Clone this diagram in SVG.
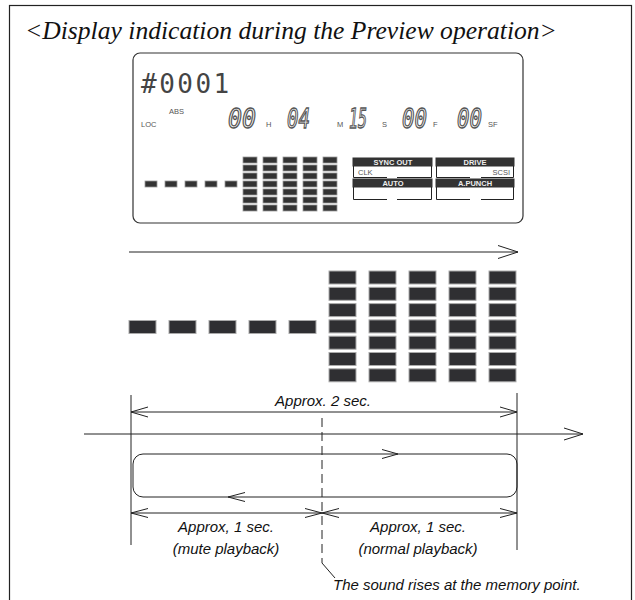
<svg xmlns="http://www.w3.org/2000/svg" width="635" height="600" viewBox="0 0 635 600">
<style>
.ln{stroke:#222;stroke-width:1;fill:none}
.bar{fill:#333;stroke:#999;stroke-width:0.8}
.bbar{fill:#2f2f32;stroke:#aaa;stroke-width:1}
.lbl{font-family:"Liberation Sans",Arial,sans-serif;font-style:italic;font-size:15px;fill:#111}
.sm{font-family:"Liberation Sans",Arial,sans-serif;font-size:7.5px;fill:#555}
.seg{font-family:"DejaVu Sans Mono",monospace;font-style:italic;font-size:26px;fill:#f6f6f6;stroke:#555;stroke-width:1.3}
.hdr{font-family:"Liberation Sans",Arial,sans-serif;font-weight:bold;font-size:7.5px;fill:#eee;text-anchor:middle}
</style>
<rect x="9.5" y="5.5" width="622" height="610" fill="#fff" stroke="#222" stroke-width="1.2"/>
<text x="25" y="39" font-family="Liberation Serif,'Times New Roman',serif" font-style="italic" font-size="25.6" fill="#111">&lt;Display indication during the Preview operation&gt;</text>

<g id="lcd">
<rect x="133" y="53" width="390" height="170" rx="7" fill="#fff" stroke="#333" stroke-width="1.2"/>
<text x="141" y="93" font-family="DejaVu Sans Mono,monospace" font-size="26" letter-spacing="2.5" fill="#444">#0001</text>
<text x="141" y="127" class="sm">LOC</text>
<text x="169" y="114" class="sm">ABS</text>
<text x="228" y="128" class="seg" textLength="28" lengthAdjust="spacingAndGlyphs">00</text>
<text x="266" y="127" class="sm">H</text>
<text x="287" y="128" class="seg" textLength="23" lengthAdjust="spacingAndGlyphs">04</text>
<text x="337" y="127" class="sm">M</text>
<text x="349" y="128" class="seg" textLength="18" lengthAdjust="spacingAndGlyphs">15</text>
<text x="382" y="127" class="sm">S</text>
<text x="402" y="128" class="seg" textLength="25" lengthAdjust="spacingAndGlyphs">00</text>
<text x="433" y="127" class="sm">F</text>
<text x="457" y="128" class="seg" textLength="25" lengthAdjust="spacingAndGlyphs">00</text>
<text x="488" y="127" class="sm">SF</text>
<g id="lcd-meter">
<rect class="bar" x="145" y="181" width="12" height="6"/>
<rect class="bar" x="165" y="181" width="12" height="6"/>
<rect class="bar" x="185" y="181" width="12" height="6"/>
<rect class="bar" x="205" y="181" width="12" height="6"/>
<rect class="bar" x="225" y="181" width="12" height="6"/>
<g id="lcd-cols">
<rect class="bar" x="243" y="157" width="14" height="6"/><rect class="bar" x="243" y="165" width="14" height="6"/><rect class="bar" x="243" y="173" width="14" height="6"/><rect class="bar" x="243" y="181" width="14" height="6"/><rect class="bar" x="243" y="189" width="14" height="6"/><rect class="bar" x="243" y="197" width="14" height="6"/><rect class="bar" x="243" y="205" width="14" height="6"/>
<rect class="bar" x="263" y="157" width="14" height="6"/><rect class="bar" x="263" y="165" width="14" height="6"/><rect class="bar" x="263" y="173" width="14" height="6"/><rect class="bar" x="263" y="181" width="14" height="6"/><rect class="bar" x="263" y="189" width="14" height="6"/><rect class="bar" x="263" y="197" width="14" height="6"/><rect class="bar" x="263" y="205" width="14" height="6"/>
<rect class="bar" x="283" y="157" width="14" height="6"/><rect class="bar" x="283" y="165" width="14" height="6"/><rect class="bar" x="283" y="173" width="14" height="6"/><rect class="bar" x="283" y="181" width="14" height="6"/><rect class="bar" x="283" y="189" width="14" height="6"/><rect class="bar" x="283" y="197" width="14" height="6"/><rect class="bar" x="283" y="205" width="14" height="6"/>
<rect class="bar" x="303" y="157" width="14" height="6"/><rect class="bar" x="303" y="165" width="14" height="6"/><rect class="bar" x="303" y="173" width="14" height="6"/><rect class="bar" x="303" y="181" width="14" height="6"/><rect class="bar" x="303" y="189" width="14" height="6"/><rect class="bar" x="303" y="197" width="14" height="6"/><rect class="bar" x="303" y="205" width="14" height="6"/>
<rect class="bar" x="323" y="157" width="14" height="6"/><rect class="bar" x="323" y="165" width="14" height="6"/><rect class="bar" x="323" y="173" width="14" height="6"/><rect class="bar" x="323" y="181" width="14" height="6"/><rect class="bar" x="323" y="189" width="14" height="6"/><rect class="bar" x="323" y="197" width="14" height="6"/><rect class="bar" x="323" y="205" width="14" height="6"/>
</g>
</g>
<g id="sync-out">
<rect x="353" y="158" width="79" height="8" fill="#333" stroke="#333" stroke-width="1"/>
<text x="393" y="164.8" class="hdr">SYNC OUT</text>
<path class="ln" d="M353.5 166V177.5H387M397 177.5H431.5V166" stroke="#333"/>
<text x="358" y="174.5" class="sm" fill="#444">CLK</text>
</g>
<g id="drive">
<rect x="436" y="158" width="78" height="8" fill="#333" stroke="#333" stroke-width="1"/>
<text x="475" y="164.8" class="hdr">DRIVE</text>
<path class="ln" d="M436.5 166V177.5H470M481 177.5H513.5V166" stroke="#333"/>
<text x="510" y="174.5" class="sm" text-anchor="end" fill="#444">SCSI</text>
</g>
<g id="auto">
<rect x="353" y="179" width="79" height="8" fill="#333" stroke="#333" stroke-width="1"/>
<text x="393" y="185.8" class="hdr">AUTO</text>
<path class="ln" d="M353.5 187V199.5H387M397 199.5H431.5V187" stroke="#333"/>
</g>
<g id="apunch">
<rect x="436" y="179" width="78" height="8" fill="#333" stroke="#333" stroke-width="1"/>
<text x="475" y="185.8" class="hdr">A.PUNCH</text>
<path class="ln" d="M436.5 187V199.5H470M481 199.5H513.5V187" stroke="#333"/>
</g>
</g>

<g id="big-meter">
<rect class="bbar" x="129" y="320.5" width="27" height="13"/>
<rect class="bbar" x="169" y="320.5" width="27" height="13"/>
<rect class="bbar" x="209" y="320.5" width="27" height="13"/>
<rect class="bbar" x="249" y="320.5" width="27" height="13"/>
<rect class="bbar" x="289" y="320.5" width="27" height="13"/>
<g id="big-cols">
<rect class="bbar" x="329" y="271" width="27" height="13"/><rect class="bbar" x="329" y="287.3" width="27" height="13"/><rect class="bbar" x="329" y="303.6" width="27" height="13"/><rect class="bbar" x="329" y="319.9" width="27" height="13"/><rect class="bbar" x="329" y="336.2" width="27" height="13"/><rect class="bbar" x="329" y="352.5" width="27" height="13"/><rect class="bbar" x="329" y="368.8" width="27" height="13"/>
<rect class="bbar" x="369" y="271" width="27" height="13"/><rect class="bbar" x="369" y="287.3" width="27" height="13"/><rect class="bbar" x="369" y="303.6" width="27" height="13"/><rect class="bbar" x="369" y="319.9" width="27" height="13"/><rect class="bbar" x="369" y="336.2" width="27" height="13"/><rect class="bbar" x="369" y="352.5" width="27" height="13"/><rect class="bbar" x="369" y="368.8" width="27" height="13"/>
<rect class="bbar" x="409" y="271" width="27" height="13"/><rect class="bbar" x="409" y="287.3" width="27" height="13"/><rect class="bbar" x="409" y="303.6" width="27" height="13"/><rect class="bbar" x="409" y="319.9" width="27" height="13"/><rect class="bbar" x="409" y="336.2" width="27" height="13"/><rect class="bbar" x="409" y="352.5" width="27" height="13"/><rect class="bbar" x="409" y="368.8" width="27" height="13"/>
<rect class="bbar" x="449" y="271" width="27" height="13"/><rect class="bbar" x="449" y="287.3" width="27" height="13"/><rect class="bbar" x="449" y="303.6" width="27" height="13"/><rect class="bbar" x="449" y="319.9" width="27" height="13"/><rect class="bbar" x="449" y="336.2" width="27" height="13"/><rect class="bbar" x="449" y="352.5" width="27" height="13"/><rect class="bbar" x="449" y="368.8" width="27" height="13"/>
<rect class="bbar" x="489" y="271" width="27" height="13"/><rect class="bbar" x="489" y="287.3" width="27" height="13"/><rect class="bbar" x="489" y="303.6" width="27" height="13"/><rect class="bbar" x="489" y="319.9" width="27" height="13"/><rect class="bbar" x="489" y="336.2" width="27" height="13"/><rect class="bbar" x="489" y="352.5" width="27" height="13"/><rect class="bbar" x="489" y="368.8" width="27" height="13"/>
</g>
</g>

<g id="connectors">
<path class="ln" d="M129 252H518M498 245.5L518 252L498 258.5"/>
<path class="ln" d="M131 395V545M517 393V550" stroke="#444"/>
<path class="ln" d="M131 412H517M148 407L131 412L148 417M500 407L517 412L500 417"/>
<path class="ln" d="M84 434H583M564 428L583 434L564 440"/>
<rect x="133" y="454" width="384" height="43" rx="10" class="ln"/>
<path class="ln" d="M382 449.5L398 454L382 458.5"/>
<path class="ln" d="M245 492.5L228 497L245 501.5"/>
<path class="ln" d="M131 513H517M148 508.5L131 513L148 517.5M500 508.5L517 513L500 517.5M305 508.5L322 513L305 517.5M339 508.5L322 513L339 517.5"/>
<path class="ln" d="M322 418V563" stroke-dasharray="9 5" stroke="#444"/>
<path class="ln" d="M322 563L335 578"/>
</g>

<g id="labels">
<text x="323" y="406" class="lbl" text-anchor="middle">Approx. 2 sec.</text>
<text x="226" y="532" class="lbl" text-anchor="middle">Approx, 1 sec.</text>
<text x="226" y="554" class="lbl" text-anchor="middle">(mute playback)</text>
<text x="418" y="532" class="lbl" text-anchor="middle">Approx, 1 sec.</text>
<text x="418" y="554" class="lbl" text-anchor="middle">(normal playback)</text>
<text x="333" y="590" class="lbl">The sound rises at the memory point.</text>
</g>
</svg>
